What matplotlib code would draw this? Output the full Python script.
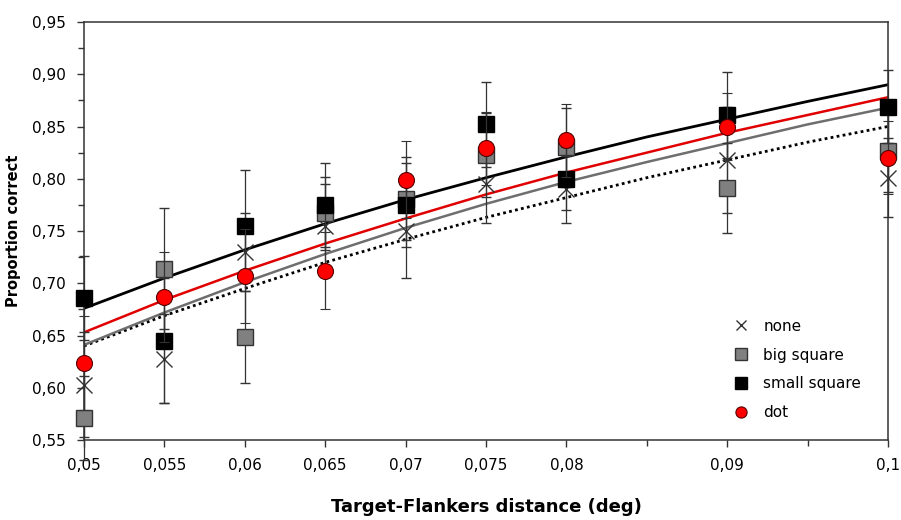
import numpy as np
import matplotlib
matplotlib.use("Agg")
import matplotlib.pyplot as plt

# distances (deg) where data were measured
dist = [0.05, 0.055, 0.06, 0.065, 0.07, 0.075, 0.08, 0.09, 0.1]

# proportion correct per flanker type
none_y = [0.603, 0.628, 0.730, 0.755, 0.750, 0.795, 0.790, 0.818, 0.801]
big_y = [0.571, 0.714, 0.649, 0.767, 0.781, 0.823, 0.830, 0.791, 0.827]
small_y = [0.686, 0.645, 0.755, 0.775, 0.775, 0.852, 0.800, 0.861, 0.869]
dot_y = [0.624, 0.687, 0.707, 0.712, 0.799, 0.829, 0.837, 0.850, 0.820]

# error bar half widths
none_err = [0.050, 0.043, 0.037, 0.040, 0.045, 0.037, 0.032, 0.051, 0.038]
big_err = [0.040, 0.058, 0.044, 0.035, 0.040, 0.040, 0.038, 0.043, 0.040]
small_err = [0.040, 0.060, 0.053, 0.040, 0.040, 0.041, 0.030, 0.041, 0.035]
dot_err = [0.045, 0.043, 0.045, 0.037, 0.037, 0.035, 0.035, 0.032, 0.035]

# fitted curves
fit_x = [0.05, 0.055, 0.06, 0.065, 0.07, 0.075, 0.08, 0.085, 0.09, 0.095, 0.1]
fit_none = [0.640, 0.669, 0.695, 0.720, 0.742, 0.763, 0.782, 0.801, 0.818, 0.835, 0.850]
fit_big = [0.641, 0.672, 0.701, 0.728, 0.753, 0.776, 0.797, 0.816, 0.834, 0.852, 0.868]
fit_small = [0.676, 0.705, 0.732, 0.757, 0.780, 0.801, 0.821, 0.840, 0.857, 0.874, 0.890]
fit_dot = [0.653, 0.684, 0.712, 0.738, 0.762, 0.785, 0.806, 0.825, 0.844, 0.861, 0.878]

xticks = [0.05, 0.055, 0.06, 0.065, 0.07, 0.075, 0.08, 0.09, 0.1]
xtick_labels = ["0,05", "0,055", "0,06", "0,065", "0,07", "0,075", "0,08", "0,09", "0,1"]
yticks = [0.55, 0.60, 0.65, 0.70, 0.75, 0.80, 0.85, 0.90, 0.95]
ytick_labels = ["0,55", "0,60", "0,65", "0,70", "0,75", "0,80", "0,85", "0,90", "0,95"]

plt.rcParams['font.family'] = ['DejaVu Sans']

fig = plt.figure(figsize=(9.01, 5.20), dpi=100)
ax = fig.add_axes([0.0932, 0.1538, 0.8924, 0.8039])

# fit lines
ax.plot(fit_x, fit_none, color='black', lw=2.0, ls=(0, (1, 1.2)), zorder=2)
ax.plot(fit_x, fit_big, color='#6e6e6e', lw=1.8, zorder=2)
ax.plot(fit_x, fit_dot, color='#e00000', lw=1.8, zorder=2)
ax.plot(fit_x, fit_small, color='black', lw=2.0, zorder=2)

eb = dict(ecolor='#333333', elinewidth=0.9, capsize=3.5, capthick=0.9, ls='none')
conts = []
conts.append(ax.errorbar(dist, none_y, yerr=none_err, marker='x', ms=11, mew=1.0,
                         color='#333333', zorder=3, label='none', **eb))
conts.append(ax.errorbar(dist, big_y, yerr=big_err, marker='s', ms=11.5, mfc='#808080',
                         mec='#333333', mew=1.0, zorder=4, label='big square', **eb))
conts.append(ax.errorbar(dist, small_y, yerr=small_err, marker='s', ms=11.5, mfc='black',
                         mec='black', mew=1.0, zorder=5, label='small square', **eb))
conts.append(ax.errorbar(dist, dot_y, yerr=dot_err, marker='o', ms=11.5, mfc='#ff0000',
                         mec='#550000', mew=0.8, zorder=6, label='dot', **eb))
for c in conts:
    for a in c.get_children():
        a.set_clip_on(False)

ax.set_xlim(0.05, 0.1)
ax.set_ylim(0.55, 0.95)
ax.set_xticks(xticks)
ax.set_xticklabels(xtick_labels)
ax.set_xticks([0.085, 0.095], minor=True)
ax.set_yticks(yticks)
ax.set_yticklabels(ytick_labels)
ax.set_yticks(np.arange(0.575, 0.95, 0.05), minor=True)
ax.tick_params(axis='both', which='major', direction='out', length=5, width=1,
               labelsize=11, color='#333333', pad=8)
ax.tick_params(axis='both', which='minor', direction='out', length=4, width=1,
               color='#333333')
for s in ax.spines.values():
    s.set_color('#333333')
    s.set_linewidth(1.1)

ax.set_xlabel('Target-Flankers distance (deg)', fontsize=13, fontweight='bold', labelpad=18)
ax.set_ylabel('Proportion correct', fontsize=10.5, fontweight='bold', labelpad=8)

handles, labels = ax.get_legend_handles_labels()
handles = [h[0] for h in handles]
leg = ax.legend(handles, labels, loc='lower left', bbox_to_anchor=(0.79, 0.015),
                frameon=False, fontsize=11, markerscale=0.7, handlelength=1.0,
                labelspacing=0.9, handletextpad=1.0)

fig.savefig('out.png', dpi=100)
